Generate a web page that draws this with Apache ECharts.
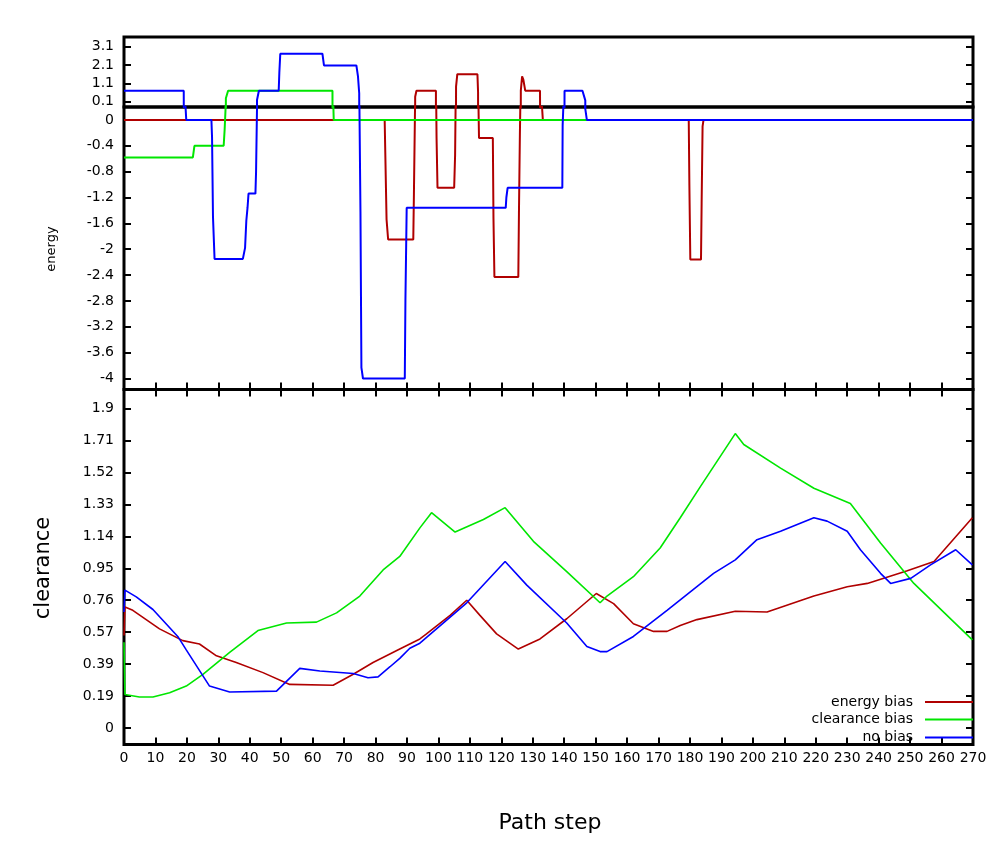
<!DOCTYPE html>
<html><head><meta charset="utf-8">
<script src="https://cdn.jsdelivr.net/npm/echarts@6/dist/echarts.min.js"></script>
<style>html,body{margin:0;padding:0;background:#fff}#c{width:997px;height:855px}</style>
</head><body><div id="c"></div>
<script>
// ---- tick values and labels ----
const energyUpperTicks = [0.1, 1.1, 2.1, 3.1];
const energyUpperLabels = ['0.1', '1.1', '2.1', '3.1'];
const energyLowerTicks = [0, -0.4, -0.8, -1.2, -1.6, -2, -2.4, -2.8, -3.2, -3.6, -4];
const energyLowerLabels = ['0', '-0.4', '-0.8', '-1.2', '-1.6', '-2', '-2.4', '-2.8', '-3.2', '-3.6', '-4'];
const clearanceTicks = [0, 0.19, 0.38, 0.57, 0.76, 0.95, 1.14, 1.33, 1.52, 1.71, 1.9];
const clearanceLabels = ['0', '0.19', '0.39', '0.57', '0.76', '0.95', '1.14', '1.33', '1.52', '1.71', '1.9'];
const seriesNames = ['energy bias', 'clearance bias', 'no bias'];

// ---- energy along the path (step, energy) ----
const energyEnergyBias = [[0,0],[82.9,0],[83.1,-0.52],[83.5,-1.54],[84,-1.85],[92,-1.85],[92.2,-1.15],[92.6,0.37],[93,0.7],[99.2,0.7],[99.4,-0.28],[99.7,-1.05],[105,-1.05],[105.3,-0.54],[105.6,0.92],[106,1.6],[112.4,1.6],[112.6,0.61],[112.9,-0.28],[117.3,-0.28],[117.5,-1.52],[117.8,-2.43],[125.4,-2.43],[125.6,-1.45],[125.9,-0.22],[126.2,0.7],[126.6,1.48],[127.0,1.3],[127.6,0.7],[132.3,0.7],[133.2,0],[179.6,0],[179.8,-1.0],[180.1,-2.16],[183.5,-2.16],[183.7,-1.29],[184,-0.1],[184.3,0],[270,0]];
const energyClearanceBias = [[0,-0.58],[21.9,-0.58],[22.4,-0.4],[31.7,-0.4],[32.0,-0.155],[32.4,0.29],[33.1,0.7],[66.3,0.7],[66.7,0],[270,0]];
const energyNoBias = [[0,0.7],[19.0,0.7],[19.8,0],[27.8,0],[28.0,-0.27],[28.3,-1.5],[28.8,-2.15],[37.8,-2.15],[38.5,-1.98],[38.9,-1.56],[39.3,-1.35],[39.6,-1.14],[41.8,-1.14],[42.0,-0.8],[42.3,0.19],[42.9,0.7],[49.2,0.7],[49.4,1.68],[49.7,2.72],[63.1,2.72],[63.6,2.08],[73.9,2.08],[74.4,1.5],[74.8,0.56],[75.2,-1.42],[75.5,-3.83],[76.0,-4.0],[89.3,-4.0],[89.5,-2.79],[89.9,-1.36],[121.4,-1.36],[121.6,-1.2],[122.0,-1.05],[139.4,-1.05],[139.5,-0.08],[140.1,0.7],[145.8,0.7],[146.7,0.17],[147.2,0],[270,0]];

// ---- clearance along the path (step, clearance) ----
const clearanceEnergyBias = [[0,0.55],[0.3,0.72],[2.8,0.70],[11.3,0.59],[18.7,0.52],[24,0.50],[29.4,0.43],[35.7,0.39],[44.2,0.33],[52.7,0.26],[66.5,0.255],[72.9,0.32],[79.2,0.39],[87.7,0.47],[94.1,0.53],[96.2,0.56],[103.7,0.67],[109,0.76],[113.2,0.67],[118.5,0.56],[125.4,0.47],[132.3,0.53],[140.8,0.65],[150.2,0.80],[155.7,0.74],[162,0.62],[168.4,0.575],[172.7,0.575],[176.9,0.61],[182.2,0.645],[194.4,0.695],[204.5,0.69],[219.4,0.785],[230,0.84],[236.4,0.86],[249.1,0.935],[257.6,0.99],[269.8,1.25]];
const clearanceClearanceBias = [[0,0.51],[0.3,0.2],[4.9,0.185],[9.2,0.185],[14.5,0.21],[19.8,0.25],[25.1,0.32],[33.6,0.45],[42.6,0.58],[51.7,0.625],[61.2,0.63],[67.6,0.685],[75,0.785],[82.4,0.94],[87.7,1.02],[94.1,1.19],[97.8,1.28],[105.3,1.165],[114.3,1.24],[121.2,1.31],[130.2,1.11],[140.8,0.93],[151.4,0.745],[153.6,0.785],[162,0.90],[170.5,1.07],[176.9,1.25],[183.3,1.435],[194.4,1.75],[197.1,1.685],[208.8,1.545],[219.4,1.425],[231,1.335],[240.6,1.10],[251.2,0.86],[269.8,0.525]];
const clearanceNoBias = [[0,0.69],[0.3,0.82],[3.9,0.78],[9.2,0.705],[17.1,0.545],[19.8,0.465],[27.2,0.25],[33.6,0.215],[48.5,0.22],[55.9,0.355],[62.3,0.34],[72.9,0.325],[77.6,0.30],[80.8,0.305],[84.6,0.365],[87.7,0.415],[90.9,0.475],[94.1,0.505],[109,0.745],[121.2,0.99],[128.1,0.85],[140.8,0.625],[147.2,0.485],[151.4,0.455],[153.6,0.455],[162,0.545],[172.7,0.70],[187.5,0.92],[194.4,1.0],[201.3,1.12],[208.8,1.17],[219.4,1.25],[223.6,1.23],[230,1.17],[234.2,1.06],[240.6,0.92],[243.8,0.86],[250.2,0.89],[256.5,0.97],[264.5,1.06],[269.8,0.97]];

const colors = ['#b00000', '#00e600', '#0000ff'];
const FONT = 'DejaVu Sans';

function labelFor(ticks, labels) {
  return function (v) {
    const i = ticks.findIndex(t => Math.abs(t - v) < 1e-6);
    return i >= 0 ? labels[i] : '';
  };
}
const tickStyle = { show: true, inside: true, length: 7, lineStyle: { color: '#000', width: 2 } };
const hiddenLine = { show: false, onZero: false };
function yAxisDef(grid, pos, min, max, ticks, labels, showLabel) {
  return {
    type: 'value', gridIndex: grid, position: pos, min: min, max: max,
    axisLine: hiddenLine, splitLine: { show: false },
    axisTick: Object.assign({ customValues: ticks }, tickStyle),
    axisLabel: showLabel ? {
      customValues: ticks, formatter: labelFor(ticks, labels), margin: 10,
      fontFamily: FONT, fontSize: 14, color: '#000'
    } : { show: false }
  };
}
function xAxisDef(grid, pos, showTicks, showLabel) {
  return {
    type: 'value', gridIndex: grid, position: pos, min: 0, max: 270, interval: 10,
    axisLine: hiddenLine, splitLine: { show: false },
    axisTick: showTicks ? tickStyle : { show: false },
    axisLabel: showLabel ? { margin: 7, fontFamily: FONT, fontSize: 14, color: '#000' } : { show: false }
  };
}
const upperOnly = arr => arr.map(([x, y]) => [x, y >= 0.1 ? y : -50]);

const energySets = [energyEnergyBias, energyClearanceBias, energyNoBias];
const clearanceSets = [clearanceEnergyBias, clearanceClearanceBias, clearanceNoBias];
const series = [];
function lineSeries(name, i, data, xi, yi, w) {
  return {
    type: 'line', name: name, data: data, xAxisIndex: xi, yAxisIndex: yi,
    showSymbol: false, symbol: 'none', clip: true, animation: false,
    lineStyle: { color: colors[i], width: w }, itemStyle: { color: colors[i] }
  };
}
seriesNames.forEach((n, i) => series.push(lineSeries(n, i, upperOnly(energySets[i]), 0, 0, 2)));
seriesNames.forEach((n, i) => series.push(lineSeries(n, i, energySets[i], 1, 2, 2)));
seriesNames.forEach((n, i) => series.push(lineSeries(n, i, clearanceSets[i], 2, 4, 1.6)));

const legendTops = [694, 711.5, 729.5];
const legends = seriesNames.map((n, i) => ({
  data: [n], orient: 'vertical', right: 24, top: legendTops[i], padding: 0,
  align: 'right', icon: 'rect', itemWidth: 48, itemHeight: 2, selectedMode: false,
  textStyle: { fontFamily: FONT, fontSize: 14, color: '#000', lineHeight: 16, padding: [0, 7, 0, 0] }
}));

const gridStyle = { show: true, borderColor: '#000', borderWidth: 3, backgroundColor: 'transparent' };
const option = {
  backgroundColor: '#fff',
  animation: false,
  grid: [
    Object.assign({ left: 124, right: 24, top: 37, height: 70 }, gridStyle),
    Object.assign({ left: 124, right: 24, top: 107, height: 282.5 }, gridStyle),
    Object.assign({ left: 124, right: 24, top: 389.5, height: 355 }, gridStyle)
  ],
  xAxis: [
    xAxisDef(0, 'bottom', false, false),
    xAxisDef(1, 'bottom', true, false),
    xAxisDef(2, 'bottom', true, true),
    xAxisDef(2, 'top', true, false)
  ],
  yAxis: [
    yAxisDef(0, 'left', -0.19, 3.63, energyUpperTicks, energyUpperLabels, true),
    yAxisDef(0, 'right', -0.19, 3.63, energyUpperTicks, energyUpperLabels, false),
    yAxisDef(1, 'left', -4.17, 0.2, energyLowerTicks, energyLowerLabels, true),
    yAxisDef(1, 'right', -4.17, 0.2, energyLowerTicks, energyLowerLabels, false),
    yAxisDef(2, 'left', -0.097, 2.012, clearanceTicks, clearanceLabels, true),
    yAxisDef(2, 'right', -0.097, 2.012, clearanceTicks, clearanceLabels, false)
  ],
  legend: legends,
  graphic: [
    { type: 'text', x: 52, y: 249, rotation: Math.PI / 2,
      style: { text: 'energy', font: '13px "DejaVu Sans"', fill: '#000', align: 'center', verticalAlign: 'middle' } },
    { type: 'text', x: 44, y: 568, rotation: Math.PI / 2,
      style: { text: 'clearance', font: '21px "DejaVu Sans"', fill: '#000', align: 'center', verticalAlign: 'middle' } },
    { type: 'text', x: 550, y: 823,
      style: { text: 'Path step', font: '22px "DejaVu Sans"', fill: '#000', align: 'center', verticalAlign: 'middle' } }
  ],
  series: series
};
const chart = echarts.init(document.getElementById('c'), null, { renderer: 'canvas' });
chart.setOption(option);
</script></body></html>
